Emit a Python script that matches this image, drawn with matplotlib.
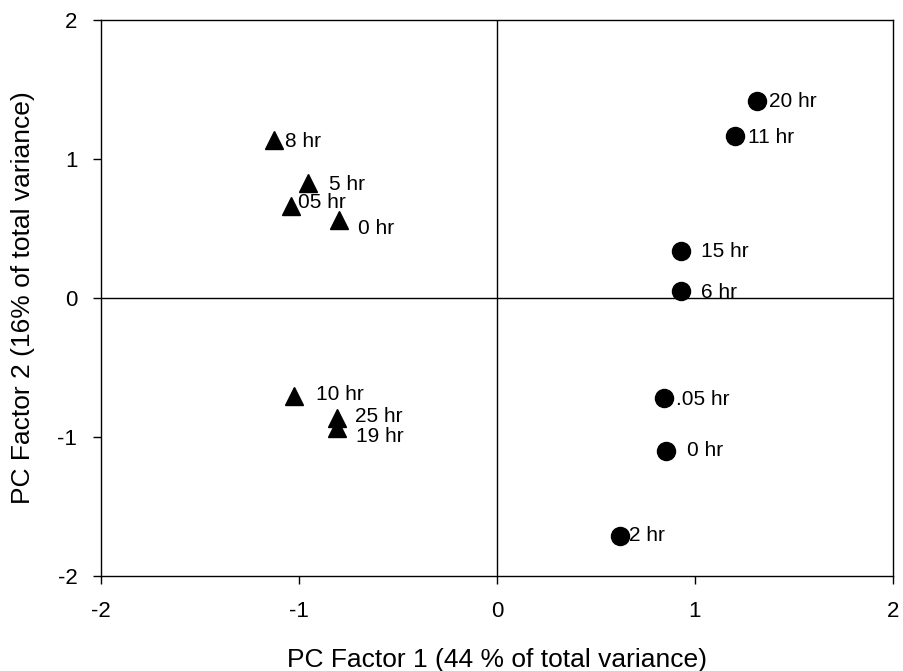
import matplotlib
matplotlib.use("Agg")
import matplotlib.pyplot as plt

plt.rcParams['font.family'] = ['Liberation Sans', 'DejaVu Sans']

# Triangles group
tri_labels = ["8 hr", "5 hr", "05 hr", "0 hr", "10 hr", "25 hr", "19 hr"]
tri_x = [-1.126, -0.955, -1.04, -0.80, -1.025, -0.81, -0.81]
tri_y = [1.137, 0.83, 0.66, 0.56, -0.705, -0.86, -0.935]
tri_off = [(8, -1), (15, -1), (5, 3), (14, -6), (16, 1), (13, 1), (14, -6)]

# Circles group
cir_labels = ["20 hr", "11 hr", "15 hr", "6 hr", ".05 hr", "0 hr", "2 hr"]
cir_x = [1.313, 1.20, 0.93, 0.93, 0.843, 0.853, 0.62]
cir_y = [1.417, 1.165, 0.338, 0.05, -0.72, -1.10, -1.71]
cir_off = [(9, 0), (10, -1), (14, 0), (14, -1), (9, -1), (15, 0), (7, 0)]

x_ticks = [-2, -1, 0, 1, 2]
y_ticks = [-2, -1, 0, 1, 2]

fig = plt.figure(figsize=(9.04, 6.71), dpi=100)
ax = fig.add_axes([0.1117, 0.1416, 0.8761, 0.8286])

ax.axhline(0, color='black', lw=1.0, zorder=1)
ax.axvline(0, color='black', lw=1.0, zorder=1)

ax.plot(tri_x, tri_y, linestyle='none', marker='^', markersize=13,
        color='black', zorder=3)
ax.plot(cir_x, cir_y, linestyle='none', marker='o', markersize=13,
        color='black', zorder=3)

for lab, x, y, off in zip(tri_labels, tri_x, tri_y, tri_off):
    ax.annotate(lab, (x, y), xytext=off, textcoords='offset points',
                ha='left', va='center', fontsize=15)
for lab, x, y, off in zip(cir_labels, cir_x, cir_y, cir_off):
    ax.annotate(lab, (x, y), xytext=off, textcoords='offset points',
                ha='left', va='center', fontsize=15)

ax.set_xlim(-2, 2)
ax.set_ylim(-2, 2)
ax.set_xticks(x_ticks)
ax.set_yticks(y_ticks)
ax.set_xticklabels([str(t) for t in x_ticks])
ax.set_yticklabels([str(t) for t in y_ticks])
ax.tick_params(direction='out', length=6, width=1, labelsize=16,
               top=False, right=False)
ax.tick_params(axis='x', pad=12)
ax.tick_params(axis='y', pad=11)
for s in ax.spines.values():
    s.set_linewidth(1.0)

ax.set_xlabel("PC Factor 1 (44 % of total variance)", fontsize=19)
ax.xaxis.set_label_coords(0.5, -0.151)
ax.xaxis.label.set_va('center')
ax.set_ylabel("PC Factor 2 (16% of total variance)", fontsize=19)
ax.yaxis.set_label_coords(-0.098, 0.5)
ax.yaxis.label.set_va('center')

fig.savefig("out.png", dpi=100)
